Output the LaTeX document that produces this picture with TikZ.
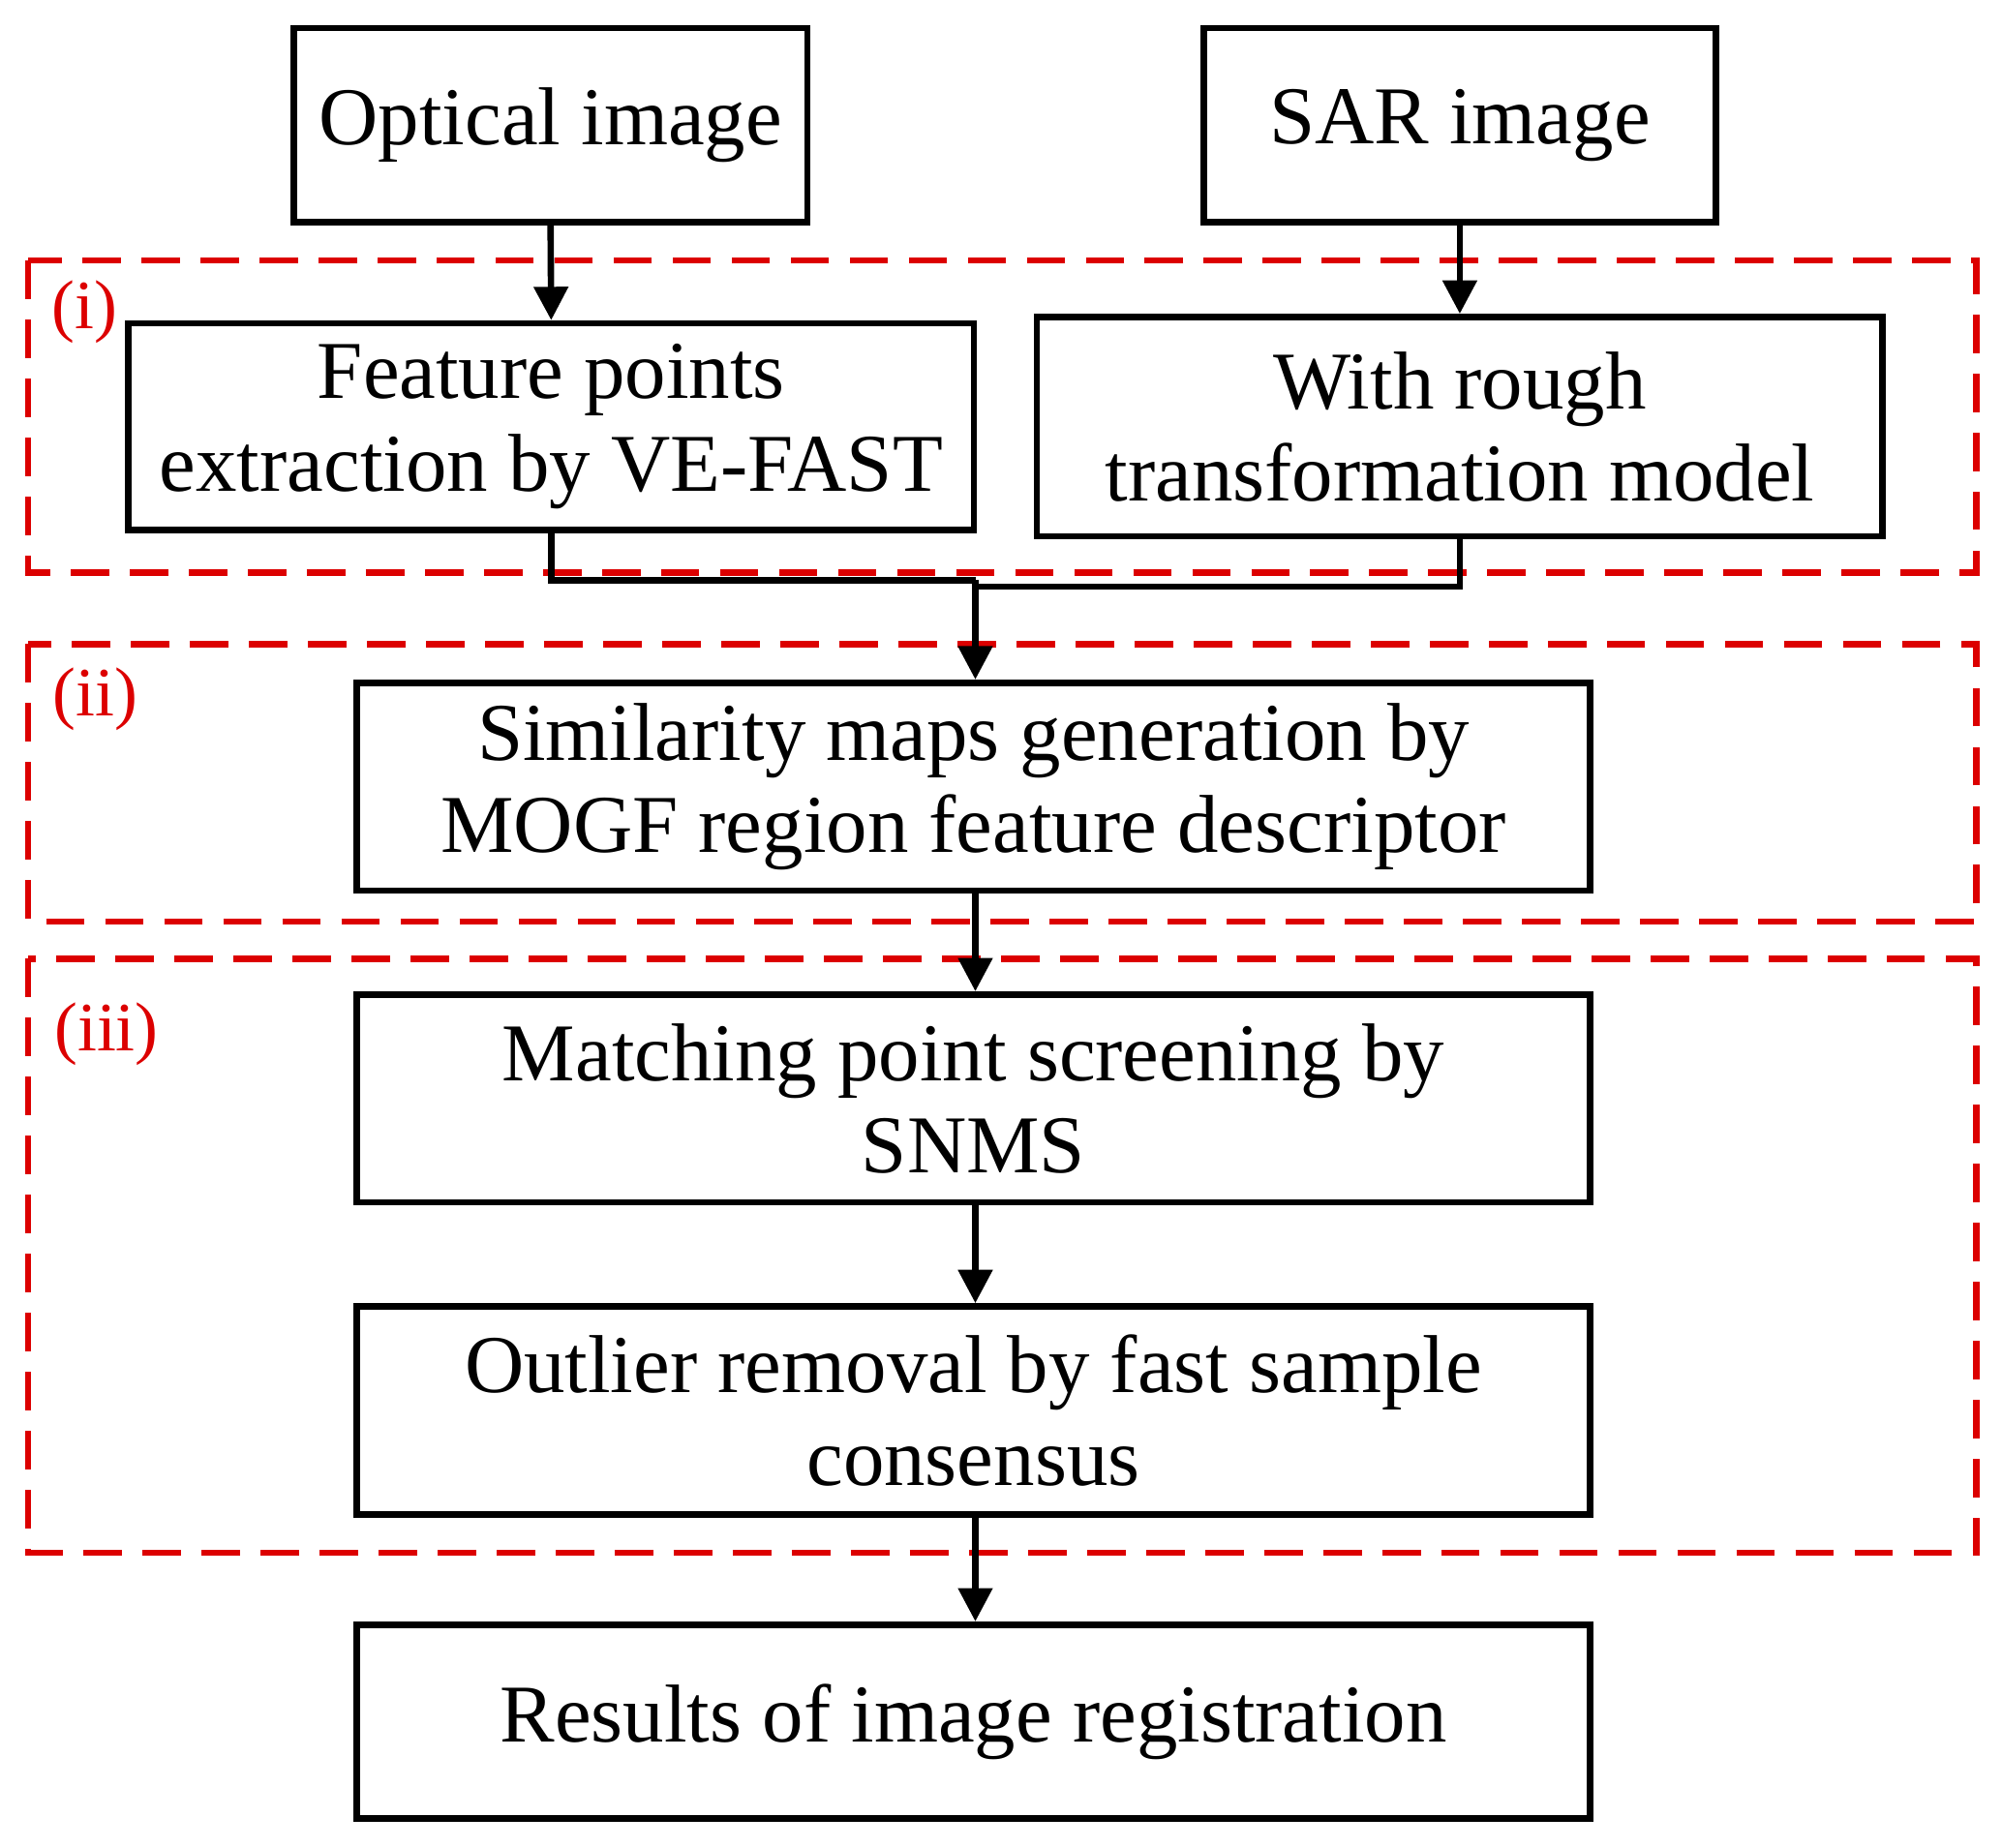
\documentclass[tikz,border=0pt]{standalone}
\usepackage{fontspec}
\setmainfont{Liberation Serif}
\usetikzlibrary{arrows.meta}
\definecolor{dred}{RGB}{220,0,0}
\begin{document}
\begin{tikzpicture}[x=1pt,y=-1pt,
 box/.style={draw,line width=5pt,align=center,inner sep=0pt,font=\fontsize{64}{72}\selectfont},
 grp/.style={draw=dred,line width=5pt,dash pattern=on 30pt off 16pt},
 lab/.style={text=dred,font=\fontsize{54}{60}\selectfont,anchor=center},
 arr/.style={line width=5pt,-{Triangle[length=26pt,width=26pt]}},
 ln/.style={line width=5pt}]
\useasboundingbox (0,0) rectangle (1560,1440);
\draw[grp] (22,203) rectangle (1540,446);
\draw[grp] (22,502) rectangle (1540,718);
\draw[grp] (22,747) rectangle (1540,1210);
\node[lab] (l1) at (66,243) {(i)};
\node[lab] (l2) at (74,545) {(ii)};
\node[lab] (l3) at (83,806) {(iii)};
\node[box,minimum width=400pt,minimum height=151pt] (opt) at (429,97.5) {Optical image};
\node[box,minimum width=399pt,minimum height=151pt] (sar) at (1137.5,97.5) {SAR image};
\node[box,minimum width=659pt,minimum height=161pt] (fp) at (429.5,332.5) {Feature points\\extraction by VE-FAST};
\node[box,minimum width=659pt,minimum height=171pt] (wr) at (1137.5,332.5) {With rough\\transformation model};
\node[box,minimum width=961pt,minimum height=162pt] (sim) at (758.5,613) {Similarity maps generation by\\MOGF region feature descriptor};
\node[box,minimum width=961pt,minimum height=162pt] (mat) at (758.5,856) {Matching point screening by\\SNMS};
\node[box,minimum width=961pt,minimum height=162pt] (out) at (758.5,1099) {Outlier removal by fast sample\\consensus};
\node[box,minimum width=961pt,minimum height=151pt] (res) at (758.5,1341.5) {Results of image registration};
\coordinate (j) at (760,452);
\coordinate (j2) at (760,457);
\draw[arr] (opt.south) -- (fp.north);
\draw[arr] (sar.south) -- (wr.north);
\draw[ln] (fp.south) |- (j);
\draw[ln] (wr.south) |- (j2);
\draw[arr] (j) -- (sim.north -| j);
\draw[arr] (sim.south -| j) -- (mat.north -| j);
\draw[arr] (mat.south -| j) -- (out.north -| j);
\draw[arr] (out.south -| j) -- (res.north -| j);
\end{tikzpicture}
\end{document}
